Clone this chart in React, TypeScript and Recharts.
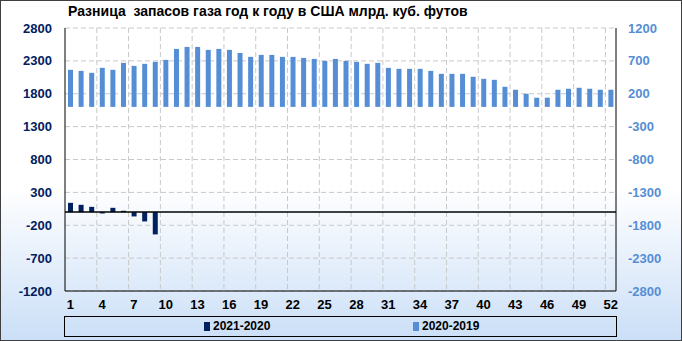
import { Bar, BarChart, CartesianGrid, Legend, ReferenceLine, XAxis, YAxis } from "recharts";

const WEEKS = Array.from({ length: 52 }, (_, i) => i + 1);

// 2021-2020, only the first weeks are reported so far
const DIFF_2021_2020 = [141, 111, 80, -21, 65, 20, -66, -142, -339];

const DIFF_2020_2019 = [
  564, 548, 518, 594, 564, 670, 624, 655, 685, 715,
  882, 912, 912, 867, 882, 867, 821, 761, 791, 791,
  761, 761, 745, 730, 700, 730, 700, 685, 655, 670,
  594, 579, 579, 579, 548, 503, 503, 503, 458, 427,
  412, 306, 261, 200, 140, 140, 261, 276, 291, 276, 261, 261,
];

const LEFT_TICKS = [-1200, -700, -200, 300, 800, 1300, 1800, 2300, 2800];
const RIGHT_TICKS = [-2800, -2300, -1800, -1300, -800, -300, 200, 700, 1200];

const NAVY = "#002060";
const BLUE = "#558ed5";
const FONT = '"Liberation Sans", Arial, sans-serif';

const data = WEEKS.map((w, i) => ({
  week: w,
  d21: DIFF_2021_2020[i] ?? null,
  d20: DIFF_2020_2019[i] ?? null,
}));

function LegendBox() {
  const item = (color: string, label: string, left: number) => (
    <div style={{ position: "absolute", left, top: 3, display: "flex", alignItems: "center" }}>
      <span style={{ width: 6, height: 9, background: color, marginRight: 3 }} />
      <span style={{ fontSize: 12, fontWeight: "bold", color: "#000", lineHeight: "13px" }}>{label}</span>
    </div>
  );
  return (
    <div style={{ position: "relative", height: 19, border: "1px solid #000", fontFamily: FONT }}>
      {item(NAVY, "2021-2020", 139)}
      {item(BLUE, "2020-2019", 348)}
    </div>
  );
}

export default function App() {
  return (
    <div
      style={{
        position: "absolute",
        left: 0,
        top: 0,
        width: 680,
        height: 339,
        border: "1px solid #404040",
        background: "linear-gradient(to bottom, #ffffff 0%, #ffffff 55%, #cbdff7 100%)",
        fontFamily: FONT,
      }}
    >
      <div
        style={{
          position: "absolute",
          left: 67,
          top: 2,
          fontSize: 14,
          fontWeight: "bold",
          color: "#000",
          whiteSpace: "pre",
        }}
      >
        {"Разница  запасов газа год к году в США млрд. куб. футов"}
      </div>
      <div style={{ position: "absolute", left: -1, top: -1 }}>
        <BarChart
          width={682}
          height={341}
          data={data}
          margin={{ top: 28, right: 0, bottom: 4, left: 0 }}
        >
          <CartesianGrid
            xAxisId="bottom"
            yAxisId="left"
            stroke="#c8c8c8"
            strokeDasharray="5 3"
            horizontalValues={LEFT_TICKS}
            verticalCoordinatesGenerator={({ offset }: any) =>
              Array.from({ length: 17 }, (_, k) => offset.left + (offset.width * 3 * (k + 1)) / WEEKS.length)
            }
          />
          <XAxis
            xAxisId="bottom"
            dataKey="week"
            interval={2}
            height={25}
            tickLine={false}
            tickSize={0}
            tickMargin={9}
            axisLine={{ stroke: "#000" }}
            tick={{ fill: "#000", fontSize: 13, fontWeight: "bold" }}
          />
          <XAxis xAxisId="top" dataKey="week" orientation="top" height={0} tick={false} tickLine={false} axisLine={{ stroke: "#000" }} />
          <YAxis
            yAxisId="left"
            orientation="left"
            width={65}
            domain={[-1200, 2800]}
            ticks={LEFT_TICKS}
            interval={0}
            tickLine={false}
            tickSize={0}
            tickMargin={13}
            axisLine={{ stroke: "#000" }}
            tick={{ fill: NAVY, fontSize: 13, fontWeight: "bold" }}
          />
          <YAxis
            yAxisId="right"
            orientation="right"
            width={66}
            domain={[-2800, 1200]}
            ticks={RIGHT_TICKS}
            interval={0}
            tickLine={false}
            tickSize={0}
            tickMargin={12}
            axisLine={{ stroke: "#000" }}
            tick={{ fill: BLUE, fontSize: 13, fontWeight: "bold" }}
          />
          <ReferenceLine xAxisId="bottom" yAxisId="left" y={0} stroke="#000" strokeWidth={1.5} />
          <Bar
            name="2020-2019"
            dataKey="d20"
            xAxisId="bottom"
            yAxisId="right"
            fill={BLUE}
            barSize={5}
            isAnimationActive={false}
          />
          <Bar
            name="2021-2020"
            dataKey="d21"
            xAxisId="top"
            yAxisId="left"
            fill={NAVY}
            barSize={5}
            isAnimationActive={false}
          />
          <Legend
            verticalAlign="bottom"
            height={21}
            content={() => <LegendBox />}
            wrapperStyle={{ left: 64, width: 553, bottom: 4 }}
          />
        </BarChart>
      </div>
    </div>
  );
}
